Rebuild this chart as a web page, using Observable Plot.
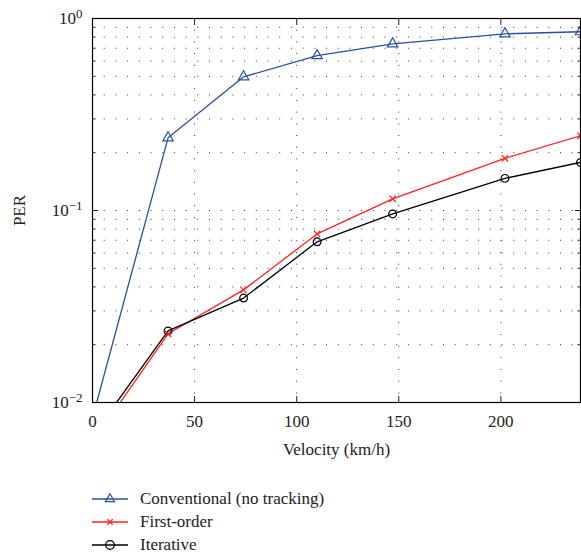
<!DOCTYPE html>
<html>
<head>
<meta charset="utf-8">
<script src="https://cdn.jsdelivr.net/npm/d3@7"></script>
<script src="https://cdn.jsdelivr.net/npm/@observablehq/plot@0.6"></script>
<style>
  body { margin: 0; background: #fff; }
  #wrap { position: relative; width: 581px; height: 560px; font-family: "Liberation Serif", serif; }
  #legend { position: absolute; left: 92px; top: 487px; font-size: 17px; color: #222; }
  .row { display: flex; align-items: center; height: 23px; }
  .row svg { margin-right: 12px; }
</style>
</head>
<body>
<div id="wrap"><div id="chart"></div><div id="legend"></div></div>
<script>
const velocity = [0, 37, 74, 110, 147, 202, 239];
const conventional = [0.0083, 0.239, 0.497, 0.64, 0.738, 0.832, 0.853];
const firstOrder = [0.0062, 0.0228, 0.0386, 0.0755, 0.115, 0.187, 0.245];
const iterative = [0.0067, 0.0236, 0.035, 0.0687, 0.096, 0.147, 0.178];
const seriesNames = ["Conventional (no tracking)", "First-order", "Iterative"];
const seriesColors = ["#2d4fa3", "#ff2222", "#000000"];
const seriesSymbols = ["triangle", "times", "circle"];
const xTicks = [0, 50, 100, 150, 200];
const yMajor = [0.01, 0.1, 1];
const yExponents = {0.01: "\u22122", 0.1: "\u22121", 1: "0"};

const yMinor = [];
for (const d of [0.01, 0.1]) for (let k = 2; k <= 9; k++) yMinor.push(+(d * k).toPrecision(3));

const allSeries = [conventional, firstOrder, iterative];
const data = allSeries.flatMap((vals, i) => velocity.map((v, j) => ({x: v, y: vals[j], s: seriesNames[i]})));

const colorScale = {domain: seriesNames, range: seriesColors};
const symbolScale = {domain: seriesNames, range: seriesSymbols};

const dots = "1,10.7";
const chart = Plot.plot({
  width: 581,
  height: 466,
  marginLeft: 92,
  marginTop: 18,
  marginRight: 1,
  marginBottom: 64,
  style: {fontFamily: "'Liberation Serif', serif", fontSize: "17px", color: "#222", background: "white"},
  x: {domain: [0, 239]},
  y: {type: "log", domain: [0.01, 1]},
  color: colorScale,
  symbol: symbolScale,
  marks: [
    Plot.ruleY(yMinor.concat([0.1]), {stroke: "#333", strokeDasharray: dots, strokeWidth: 1}),
    Plot.ruleX(xTicks.filter(d => d > 0), {stroke: "#333", strokeDasharray: dots, strokeWidth: 1}),
    Plot.line(data, {x: "x", y: "y", z: "s", stroke: "s", strokeWidth: 1.3, clip: true}),
    Plot.dot(data, {x: "x", y: "y", symbol: "s", stroke: "s", r: d => d.s === seriesNames[1] ? 3 : 5, fill: "none", strokeWidth: 1.2, clip: true}),
    Plot.axisY({anchor: "left", ticks: yMajor, tickSize: 0, tickPadding: 10, tickFormat: d => "10|" + yExponents[d], label: "PER", labelAnchor: "center", labelArrow: "none", labelOffset: 80, fontSize: 17}),
    Plot.axisY({anchor: "left", ticks: yMajor, tickSize: -6, text: null, label: null}),
    Plot.axisY({anchor: "right", ticks: yMajor, tickSize: -6, text: null, label: null}),
    Plot.axisY({anchor: "left", ticks: yMinor, tickSize: -3.5, text: null, label: null}),
    Plot.axisY({anchor: "right", ticks: yMinor, tickSize: -3.5, text: null, label: null}),
    Plot.axisX({anchor: "bottom", ticks: xTicks, tickSize: 0, tickPadding: 12, label: "Velocity (km/h)", labelAnchor: "center", labelArrow: "none", labelOffset: 52, fontSize: 17}),
    Plot.axisX({anchor: "bottom", ticks: xTicks, tickSize: -6, text: null, label: null}),
    Plot.axisX({anchor: "top", ticks: xTicks, tickSize: -6, text: null, label: null}),
    Plot.frame({stroke: "black", strokeWidth: 1.2})
  ]
});
document.getElementById("chart").appendChild(chart);

// turn "10|e" tick labels into base + superscript tspans
d3.select(chart).selectAll("text").each(function() {
  const t = this.textContent;
  if (t.startsWith("10|")) {
    const exp = t.slice(3);
    const sel = d3.select(this);
    sel.text(null);
    sel.append("tspan").text("10");
    sel.append("tspan").attr("dy", "-0.45em").attr("font-size", "13px").text(exp);
  }
});

const legend = document.getElementById("legend");
seriesNames.forEach((name, i) => {
  const row = document.createElement("div");
  row.className = "row";
  const sym = d3.symbol(seriesSymbols[i] === "triangle" ? d3.symbolTriangle2 : seriesSymbols[i] === "times" ? d3.symbolTimes : d3.symbolCircle2, i === 1 ? 22 : 60)();
  row.innerHTML = `<svg width="36" height="14"><line x1="0" x2="36" y1="7" y2="7" stroke="${seriesColors[i]}" stroke-width="1.3"/><path d="${sym}" transform="translate(18,7)" fill="none" stroke="${seriesColors[i]}" stroke-width="1.2"/></svg><span>${name}</span>`;
  legend.appendChild(row);
});
</script>
</body>
</html>
